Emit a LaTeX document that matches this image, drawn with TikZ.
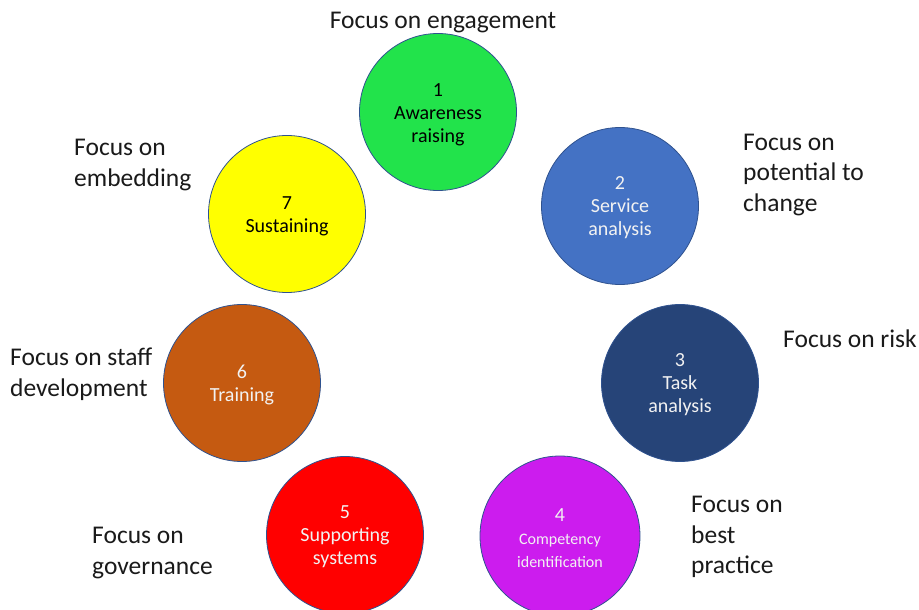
\documentclass[tikz,border=0pt]{standalone}
\usepackage{fontspec}
\setmainfont{Carlito}
\definecolor{cgreen}{HTML}{22E34B}
\definecolor{cblue}{HTML}{4472C4}
\definecolor{cnavy}{HTML}{264478}
\definecolor{cmag}{HTML}{CC1CEE}
\definecolor{cred}{HTML}{FF0000}
\definecolor{corange}{HTML}{C55A11}
\definecolor{cyellow}{HTML}{FFFF00}
\definecolor{edge}{HTML}{2F528F}
\definecolor{lbl}{HTML}{1A1A1A}
\definecolor{wtxt}{HTML}{F2F2F2}
\begin{document}
\begin{tikzpicture}[x=1pt,y=-1pt,
  stage/.style={circle,draw=edge,line width=0.8pt,minimum size=157pt,inner sep=0pt},
  stagetxt/.style={inner sep=0pt,align=center,font=\fontsize{20}{23}\selectfont},
  focus/.style={anchor=west,inner sep=0pt,align=left,text=lbl,font=\fontsize{25.5}{30.5}\selectfont}]
\useasboundingbox (0,0) rectangle (919,610);
\node[stage,fill=cgreen] (s1) at (438,112) {};
\node[stage,fill=cblue] (s2) at (620,206) {};
\node[stage,fill=cnavy] (s3) at (680,383) {};
\node[stage,fill=cmag,minimum size=160pt] (s4) at (560,536) {};
\node[stage,fill=cred] (s5) at (345,535) {};
\node[stage,fill=corange] (s6) at (242,383) {};
\node[stage,fill=cyellow] (s7) at (287,214) {};
\node[stagetxt,text=black] (t1) at ([yshift=-3pt]s1.center) {1\\Awareness\\raising};
\node[stagetxt,text=wtxt] (t2) at ([yshift=-2pt]s2.center) {2\\Service\\analysis};
\node[stagetxt,text=wtxt] (t3) at ([yshift=-2pt]s3.center) {3\\Task\\analysis};
\node[stagetxt,text=wtxt,font=\fontsize{16}{23}\selectfont] (t4) at ([yshift=-2pt]s4.center) {\fontsize{20}{23}\selectfont 4\\Competency\\identification};
\node[stagetxt,text=wtxt] (t5) at ([yshift=-2pt]s5.center) {5\\Supporting\\systems};
\node[stagetxt,text=wtxt] (t6) at ([yshift=-2pt]s6.center) {6\\Training};
\node[stagetxt,text=black] (t7) at ([yshift=-2pt]s7.center) {7\\Sustaining};
\node[focus,anchor=center] (f1) at (443,22.5) {Focus on engagement};
\node[focus] (f2) at (743,175) {Focus on\\potential to\\change};
\node[focus] (f3) at (783,339) {Focus on risk};
\node[focus] (f4) at (691,537) {Focus on\\best\\practice};
\node[focus] (f5) at (92,553) {Focus on\\governance};
\node[focus] (f6) at (10,374) {Focus on staff\\development};
\node[focus] (f7) at (74,165) {Focus on\\embedding};
\end{tikzpicture}
\end{document}
